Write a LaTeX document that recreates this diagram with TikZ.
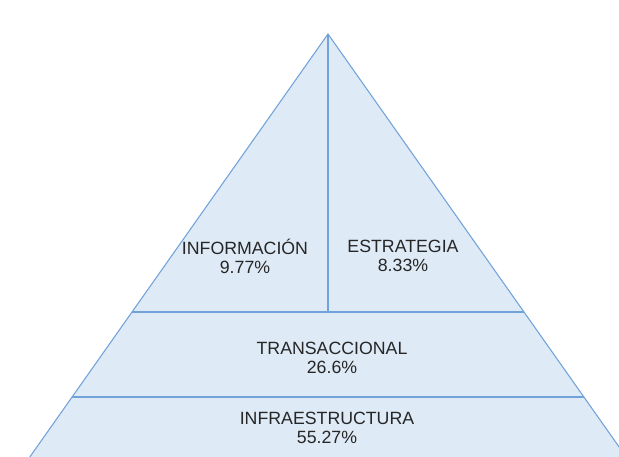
\documentclass[tikz,border=0pt]{standalone}
\usepackage{fontspec}
\setmainfont{Liberation Sans}
\usepackage{xcolor}
\definecolor{tierfill}{HTML}{DEEAF6}
\definecolor{tierline}{HTML}{72A2DA}
\definecolor{textdark}{HTML}{262626}
\usetikzlibrary{calc}

\begin{document}
\begin{tikzpicture}[x=0.75pt, y=-0.75pt,
    tierlabel/.style={align=center, inner sep=0pt, text=textdark,
      font=\fontsize{13.3}{14.3}\selectfont}]
  \useasboundingbox (0,0) rectangle (619,457);
  \clip (0,0) rectangle (619,457);
  \coordinate (apex) at (328,34);
  \coordinate (baseL) at (29.8,457);
  \coordinate (baseR) at (626.2,457);
  \fill[tierfill] (apex) -- (baseL) -- (baseR) -- cycle;
  % Outline and dividers
  \draw[tierline, line width=0.8pt] (baseL) -- (apex) -- (baseR);
  \draw[tierline, line width=0.8pt] (apex) -- (328,312);
  \draw[tierline, line width=1.4pt] (132,312) -- (524,312);
  \draw[tierline, line width=1.4pt] (72,397) -- (584,397);

  % Top tier
  \node[tierlabel] (info) at (245,256) {INFORMACIÓN\\9.77\%};
  \node[tierlabel] (estr) at (403,256) {ESTRATEGIA\\8.33\%};
  % Lower tiers
  \node[tierlabel] (trans) at (332,357.5) {TRANSACCIONAL\\26.6\%};
  \node[tierlabel] (infra) at (327,428) {INFRAESTRUCTURA\\55.27\%};
\end{tikzpicture}
\end{document}
